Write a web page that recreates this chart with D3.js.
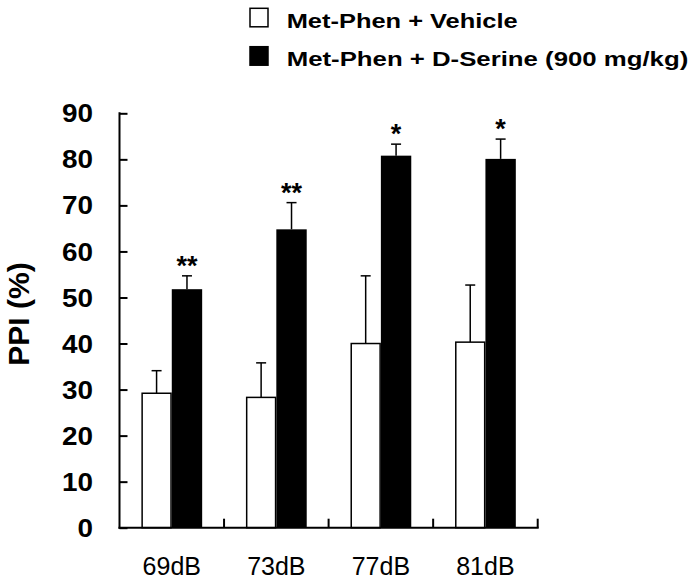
<!DOCTYPE html>
<html>
<head>
<meta charset="utf-8">
<script src="https://cdn.jsdelivr.net/npm/d3@7"></script>
<style>
  html, body { margin: 0; padding: 0; background: #fff; }
  svg { display: block; font-family: "Liberation Sans", Arial, sans-serif; }
</style>
</head>
<body>
<div id="chart"></div>
<script>
const categories = ["69dB", "73dB", "77dB", "81dB"];
const seriesNames = ["Met-Phen + Vehicle", "Met-Phen + D-Serine (900 mg/kg)"];
const vehicleMeans = [29.2, 28.3, 40.0, 40.3];
const vehicleErrors = [4.9, 7.5, 14.7, 12.4];
const serineMeans = [51.8, 64.8, 80.8, 80.1];
const serineErrors = [2.9, 5.8, 2.5, 4.3];
const significance = ["**", "**", "*", "*"];
const yTicks = [0, 10, 20, 30, 40, 50, 60, 70, 80, 90];
const yLabel = "PPI (%)";

const W = 693, H = 580;
const svg = d3.select("#chart").append("svg").attr("width", W).attr("height", H);

const x0 = 119.5, x1 = 537.7, yBottom = 527.7, yTop = 113.3;
const x = d3.scaleBand().domain(categories).range([x0, x1]).padding(0);
const sub = d3.scaleBand().domain([0, 1]).range([0, x.bandwidth()]).paddingInner(0).paddingOuter(0.72);
const y = d3.scaleLinear().domain([0, 90]).range([yBottom, yTop]);

const data = categories.map((c, i) => ({
  cat: c, sig: significance[i],
  bars: [
    { s: 0, mean: vehicleMeans[i], err: vehicleErrors[i] },
    { s: 1, mean: serineMeans[i], err: serineErrors[i] }
  ]
}));

const g = svg.selectAll("g.grp").data(data).enter().append("g")
  .attr("transform", d => `translate(${x(d.cat)},0)`);

// error bars (upward only)
g.selectAll("g.err").data(d => d.bars).enter().append("g").each(function(b) {
  const cx = sub(b.s) + sub.bandwidth() / 2;
  const gg = d3.select(this);
  gg.append("line").attr("x1", cx).attr("x2", cx)
    .attr("y1", y(b.mean)).attr("y2", y(b.mean + b.err))
    .attr("stroke", "#000").attr("stroke-width", 1.5);
  gg.append("line").attr("x1", cx - 5).attr("x2", cx + 5)
    .attr("y1", y(b.mean + b.err)).attr("y2", y(b.mean + b.err))
    .attr("stroke", "#000").attr("stroke-width", 1.5);
});

// bars
g.selectAll("rect").data(d => d.bars).enter().append("rect")
  .attr("x", b => sub(b.s) + (b.s === 0 ? 0.75 : 0))
  .attr("width", b => sub.bandwidth() - (b.s === 0 ? 1.5 : 0))
  .attr("y", b => y(b.mean))
  .attr("height", b => y(0) - y(b.mean))
  .attr("fill", b => b.s === 0 ? "#fff" : "#000")
  .attr("stroke", "#000")
  .attr("stroke-width", b => b.s === 0 ? 1.5 : 0);

// significance
g.append("text")
  .attr("x", d => sub(1) + sub.bandwidth() / 2)
  .attr("y", d => y(d.bars[1].mean + d.bars[1].err) - 1)
  .attr("text-anchor", "middle")
  .attr("font-size", 27).attr("font-weight", "bold")
  .text(d => d.sig);

// y axis
const yAxis = d3.axisRight(y).tickValues(yTicks).tickSize(8).tickFormat("");
const ya = svg.append("g").attr("transform", `translate(${x0},0)`).call(yAxis);
ya.select(".domain").remove();
ya.selectAll(".tick line").attr("stroke", "#000").attr("stroke-width", 2);
svg.append("line").attr("x1", x0).attr("x2", x0).attr("y1", yTop - 1).attr("y2", yBottom + 1)
  .attr("stroke", "#000").attr("stroke-width", 2);
svg.append("g").selectAll("text").data(yTicks).enter().append("text")
  .attr("x", x0 - 26.5).attr("y", d => y(d)).attr("dy", "0.35em")
  .attr("text-anchor", "end").attr("font-size", 26).attr("font-weight", "bold")
  .attr("textLength", d => String(d).length * 15.5).attr("lengthAdjust", "spacingAndGlyphs")
  .text(d => d);

// x axis
svg.append("line").attr("x1", x0 - 1).attr("x2", x1 + 1).attr("y1", yBottom).attr("y2", yBottom)
  .attr("stroke", "#000").attr("stroke-width", 2);
svg.append("g").selectAll("line").data(categories).enter().append("line")
  .attr("x1", d => x(d) + x.bandwidth()).attr("x2", d => x(d) + x.bandwidth())
  .attr("y1", yBottom).attr("y2", yBottom - 9)
  .attr("stroke", "#000").attr("stroke-width", 2);
svg.append("g").selectAll("text").data(categories).enter().append("text")
  .attr("x", d => x(d) + x.bandwidth() / 2).attr("y", 575)
  .attr("text-anchor", "middle").attr("font-size", 25)
  .text(d => d);

// y label
svg.append("text")
  .attr("transform", `translate(29,${314}) rotate(-90)`)
  .attr("text-anchor", "middle").attr("font-size", 30).attr("font-weight", "bold")
  .text(yLabel);

// legend
const legW = [231, 401.6];
const leg = svg.append("g");
seriesNames.forEach((name, i) => {
  const yy = i === 0 ? 8.3 : 46.7;
  leg.append("rect").attr("x", 250).attr("y", yy).attr("width", 18).attr("height", 18.5)
    .attr("fill", i === 0 ? "#fff" : "#000").attr("stroke", "#000").attr("stroke-width", 1.5);
  leg.append("text").attr("x", 286.7).attr("y", i === 0 ? 28.3 : 65.5)
    .attr("font-size", 20).attr("font-weight", "bold")
    .attr("textLength", legW[i]).attr("lengthAdjust", "spacingAndGlyphs")
    .text(name);
});
</script>
</body>
</html>
